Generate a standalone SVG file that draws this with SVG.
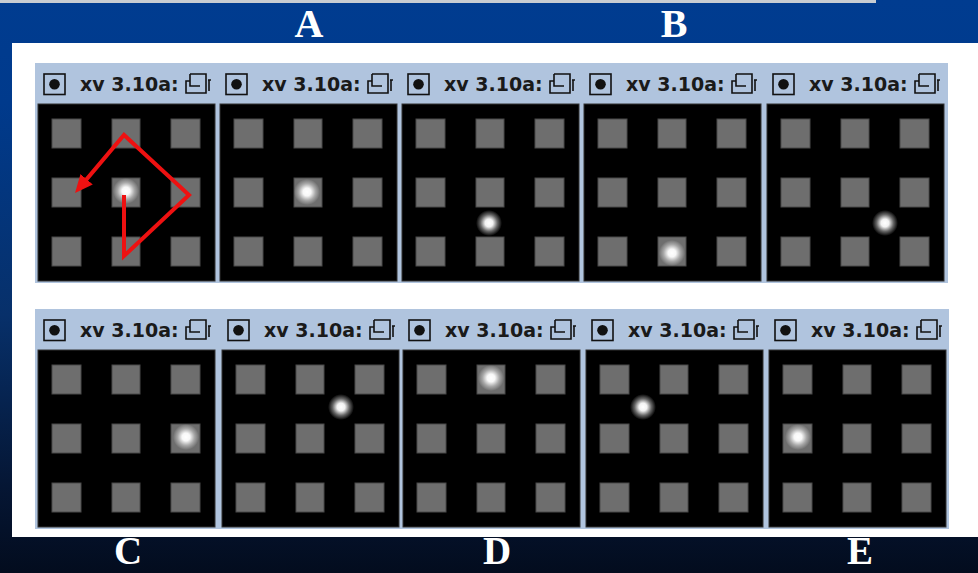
<svg xmlns="http://www.w3.org/2000/svg" width="978" height="573" viewBox="0 0 978 573">
<style>
.lbl{font-family:"Liberation Serif","Times New Roman",serif;font-weight:bold;font-size:40px;fill:#fff;text-anchor:middle}
.lblb{font-size:39px}
.ttl{font-family:"DejaVu Sans","Liberation Sans",sans-serif;font-weight:bold;font-size:19px;fill:#1a1a1a}
.img{fill:#000;stroke:#333;stroke-width:1}
.sq{fill:#6e6e6e;stroke:#4a4a4a;stroke-width:1}
.dk .sq{fill:#5e5e5e}
.lt .sq{fill:#888;stroke:#5a5a5a}
.md .sq{fill:#676767}
.cb{fill:none;stroke:#111;stroke-width:1.6}
.ic{fill:none;stroke:#111;stroke-width:1.6}
.arrow{fill:none;stroke:#ee1111;stroke-width:4;stroke-linejoin:miter}
</style>
<defs>
<linearGradient id="bgGrad" x1="0" y1="0" x2="0" y2="1">
<stop offset="0" stop-color="#003c90"/>
<stop offset="0.18" stop-color="#003a8c"/>
<stop offset="0.55" stop-color="#07306a"/>
<stop offset="0.85" stop-color="#051634"/>
<stop offset="1" stop-color="#030c1e"/>
</linearGradient>
<radialGradient id="blob">
<stop offset="0" stop-color="#fff" stop-opacity="1"/>
<stop offset="0.3" stop-color="#fff" stop-opacity="0.95"/>
<stop offset="0.65" stop-color="#fff" stop-opacity="0.4"/>
<stop offset="1" stop-color="#fff" stop-opacity="0"/>
</radialGradient>
<marker id="ah" markerUnits="userSpaceOnUse" markerWidth="20" markerHeight="18" refX="12" refY="8" orient="auto">
<path d="M0,0 L18,8 L0,16 Z" fill="#ee1111"/>
</marker>
<g id="titlebar">
<rect class="cb" x="6" y="-30" width="21" height="20.5"/>
<circle cx="16.5" cy="-19.7" r="5.3" fill="#111"/>
<text class="ttl" x="42" y="-13">xv 3.10a:</text>
<path class="ic" d="M152,-30 H168 V-11 H148 V-23 H152 M152,-30 V-18 H162"/>
<path class="ic" d="M170,-24 H173 M171,-24 V-13"/>
</g>
<g id="grid">
<rect class="img" x="0" y="0" width="177" height="177"/>
<rect class="sq" x="14" y="15" width="29" height="29"/>
<rect class="sq" x="74" y="15" width="28" height="29"/>
<rect class="sq" x="133" y="15" width="29" height="29"/>
<rect class="sq" x="14" y="74" width="29" height="29"/>
<rect class="sq" x="74" y="74" width="28" height="29"/>
<rect class="sq" x="133" y="74" width="29" height="29"/>
<rect class="sq" x="14" y="133" width="29" height="29"/>
<rect class="sq" x="74" y="133" width="28" height="29"/>
<rect class="sq" x="133" y="133" width="29" height="29"/>
</g>
</defs>

<rect x="0" y="0" width="978" height="573" fill="url(#bgGrad)"/>
<rect x="0" y="0" width="876" height="3" fill="#c8cdd2"/>
<rect x="12" y="43" width="966" height="494" fill="#fff"/>
<rect x="35" y="63" width="913" height="220" fill="#b0c4de"/>
<rect x="35" y="309" width="914" height="220" fill="#b0c4de"/>

<g id="panel-top-1" transform="translate(38,104)">
<use href="#titlebar"/><use href="#grid"/>
<circle cx="88" cy="87" r="13" fill="url(#blob)"/>
</g>
<g id="panel-top-2" transform="translate(220,104)">
<use href="#titlebar"/><use href="#grid"/>
<circle cx="87" cy="88" r="13" fill="url(#blob)"/>
</g>
<g id="panel-top-3" transform="translate(402,104)">
<use href="#titlebar"/><use href="#grid"/>
<circle cx="87" cy="119" r="13" fill="url(#blob)"/>
</g>
<g id="panel-top-4" transform="translate(584,104)">
<use href="#titlebar"/><use href="#grid"/>
<circle cx="88" cy="149" r="13" fill="url(#blob)"/>
</g>
<g id="panel-top-5" class="dk" transform="translate(767,104)">
<use href="#titlebar"/><use href="#grid"/>
<circle cx="118" cy="119" r="13" fill="url(#blob)"/>
</g>

<g id="panel-bottom-1" transform="translate(38,350)">
<use href="#titlebar"/><use href="#grid"/>
<circle cx="148" cy="87" r="13" fill="url(#blob)"/>
</g>
<g id="panel-bottom-2" transform="translate(222,350)">
<use href="#titlebar"/><use href="#grid"/>
<circle cx="119" cy="57" r="13" fill="url(#blob)"/>
</g>
<g id="panel-bottom-3" class="md" transform="translate(403,350)">
<use href="#titlebar"/><use href="#grid"/>
<circle cx="88" cy="28" r="13" fill="url(#blob)"/>
</g>
<g id="panel-bottom-4" class="lt" transform="translate(586,350)">
<use href="#titlebar"/><use href="#grid"/>
<circle cx="57" cy="57" r="13" fill="url(#blob)"/>
</g>
<g id="panel-bottom-5" transform="translate(769,350)">
<use href="#titlebar"/><use href="#grid"/>
<circle cx="29" cy="87" r="13" fill="url(#blob)"/>
</g>

<g id="connectors">
<path class="arrow" d="M124,195 L124,256 L189,195 L124,135 L78.9,188.4" marker-end="url(#ah)"/>
</g>

<g id="labels">
<text class="lbl" x="309" y="37">A</text>
<text class="lbl" x="674" y="37">B</text>
<text class="lbl lblb" x="128" y="564">C</text>
<text class="lbl lblb" x="497" y="564">D</text>
<text class="lbl lblb" x="860" y="564">E</text>
</g>
</svg>
